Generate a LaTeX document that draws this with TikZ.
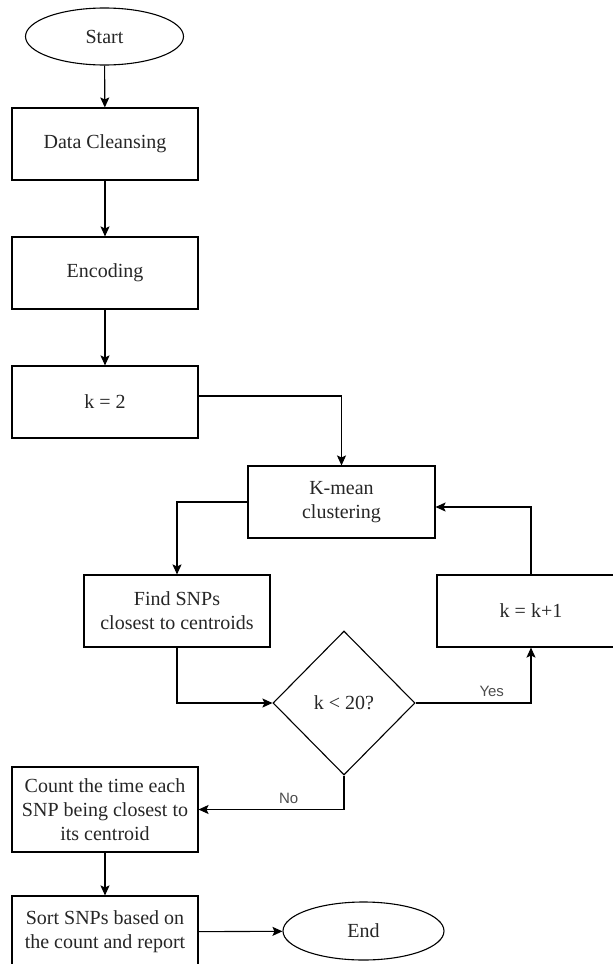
\documentclass[tikz,border=0pt]{standalone}
\usepackage{fontspec}
\setmainfont{Liberation Serif}
\newfontfamily\labelfont{Liberation Sans}
\usetikzlibrary{arrows.meta,shapes.geometric}

\begin{document}
\begin{tikzpicture}[x=1pt, y=-1pt, >={Stealth[length=10pt, width=9pt, inset=2pt]},
    line width=1.1pt,
    box/.style={draw, rectangle, minimum width=186pt, minimum height=72pt, align=center,
                font=\fontsize{20}{24}\selectfont, text=black!85},
    term/.style={draw, ellipse, minimum width=158pt, minimum height=57pt,
                font=\fontsize{20}{24}\selectfont, text=black!85},
    decision/.style={draw, diamond, aspect=1, inner sep=0pt, minimum width=142pt,
                minimum height=144pt, font=\fontsize{20}{24}\selectfont, text=black!85},
    lab/.style={font=\labelfont\fontsize{15}{18}\selectfont, text=black!70}]
    \clip (0, 0) rectangle (613, 964);
    \node[term] (start) at (104.5, 36.5) {Start};
    \node[box] (clean) at (105, 144) {Data Cleansing};
    \node[box] (enc) at (105, 273) {Encoding};
    \node[box] (kinit) at (105, 402) {k = 2};
    \node[box, minimum width=187pt] (kmean) at (341.5, 502) {K-mean\\clustering};
    \node[box] (find) at (177, 611) {Find SNPs\\closest to centroids};
    \node[decision] (cond) at (344, 703) {k < 20?};
    \node[box, minimum width=188pt] (kinc) at (531, 611) {k = k+1};
    \node[box, minimum height=85pt] (count) at (105, 809.5) {Count the time each\\SNP being closest to\\its centroid};
    \node[box] (sort) at (105, 932) {Sort SNPs based on\\the count and report};
    \node[term, minimum width=161pt, minimum height=58pt] (end) at (363.5, 931) {End};
    \draw[->] (start) -- (clean);
    \draw[->] (clean) -- (enc);
    \draw[->] (enc) -- (kinit);
    \draw[->] ([yshift=6pt]kinit.east) -| (kmean.north);
    \draw[->] (kmean.west) -| (find.north);
    \draw[->] (find.south) |- (cond.west);
    \draw[->] (cond.east) -| node[lab, pos=0.33, above=2pt] {Yes} (kinc.south);
    \draw[->] (kinc.north) |- ([yshift=-5pt]kmean.east);
    \draw[->] (cond.south) |- node[lab, pos=0.69, above=2pt] {No} (count.east);
    \draw[->] (count) -- (sort);
    \draw[->] (sort) -- (end);
\end{tikzpicture}
\end{document}
